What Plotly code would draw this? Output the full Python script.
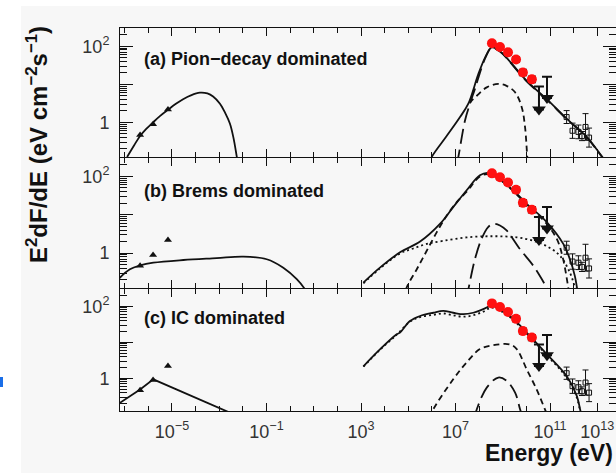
import plotly.graph_objects as go

# ---------------- data (log10 values) ----------------
# common measured points
radio_logE = [-6.35, -5.8, -5.17]
radio_logF = [-0.33, -0.05, 0.34]

fermi_logE = [8.54, 8.88, 9.22, 9.56, 9.85, 10.23]
fermi_logF = [2.08, 1.98, 1.84, 1.65, 1.31, 1.13]
fermi_errlog = [0.06, 0.06, 0.06, 0.07, 0.08, 0.08]

ul_logE = [10.53, 10.87]
ul_top_logF = [0.94, 1.20]
ul_arrow_logF = [0.34, 0.64]

hess_logE = [11.7, 11.95, 12.2, 12.35, 12.5, 12.65]
hess_logF = [0.14, -0.22, -0.25, -0.36, -0.12, -0.40]
hess_errlog = [0.17, 0.20, 0.18, 0.12, 0.35, 0.25]

# panel (a) Pion-decay dominated
a_sync_logE = [-6.9, -6.6, -6.35, -6.1, -5.8, -5.5, -5.17, -4.85, -4.53, -4.2, -3.82, -3.5, -3.26, -2.97, -2.75, -2.55, -2.4, -2.25, -2.15]
a_sync_logF = [-0.91, -0.6, -0.36, -0.18, 0.0, 0.17, 0.33, 0.48, 0.61, 0.71, 0.78, 0.76, 0.68, 0.49, 0.25, -0.03, -0.4, -0.93, -1.3]
a_tot_logE = [5.6, 6.0, 6.6, 7.19, 7.54, 7.96, 8.25, 8.53, 8.88, 10.01, 10.86, 11.7, 12.55, 13.25, 13.6]
a_tot_logF = [-1.4, -0.9, -0.38, 0.14, 0.49, 1.26, 1.70, 1.97, 1.87, 1.09, 0.61, 0.10, -0.38, -0.94, -1.2]
a_pi_logE = [7.05, 7.12, 7.4, 7.61, 7.82, 8.11, 8.3, 8.53, 8.88, 10.01, 10.86, 11.7, 12.55, 13.25, 13.6]
a_pi_logF = [-1.1, -0.9, 0.05, 0.49, 0.88, 1.45, 1.75, 1.96, 1.86, 1.08, 0.60, 0.09, -0.39, -0.95, -1.2]
a_sd_logE = [7.6, 7.68, 7.9, 8.32, 8.81, 9.16, 9.52, 9.8, 9.94, 10.04, 10.1]
a_sd_logF = [0.5, 0.57, 0.7, 0.92, 1.01, 0.96, 0.79, 0.40, -0.12, -0.94, -1.3]

# panel (b) Brems dominated
b_sync_logE = [-7.3, -7.2, -6.78, -6.35, -5.79, -4.52, -3.11, -1.98, -0.99, -0.29, 0.28, 0.63, 0.8]
b_sync_logF = [-0.72, -0.64, -0.42, -0.32, -0.25, -0.18, -0.13, -0.09, -0.16, -0.38, -0.68, -0.95, -1.2]
b_tot_logE = [3.1, 3.8, 4.65, 5.5, 6.34, 6.9, 7.47, 8.03, 8.4, 8.9, 9.5, 10.0, 10.86, 11.56, 11.84, 12.05, 12.15]
b_tot_logF = [-0.77, -0.38, 0.02, 0.30, 0.76, 1.2, 1.64, 2.03, 2.09, 1.92, 1.6, 1.29, 0.81, 0.24, -0.16, -0.6, -0.95]
b_ic_logE = [3.1, 3.8, 4.65, 5.21, 5.78, 6.48, 7.47, 8.6, 9.59, 10.29, 10.86, 11.42, 11.84, 12.05, 12.15]
b_ic_logF = [-0.79, -0.4, -0.01, 0.12, 0.24, 0.32, 0.41, 0.44, 0.41, 0.32, 0.18, -0.07, -0.51, -0.9, -1.2]
b_br_logE = [4.8, 4.93, 5.36, 5.78, 6.2, 6.63, 7.05, 7.47, 8.03, 8.4, 8.9, 9.5, 10.0, 10.86, 11.3, 11.55, 11.77, 11.85]
b_br_logF = [-1.2, -0.9, -0.42, 0.06, 0.54, 0.98, 1.33, 1.6, 2.0, 2.06, 1.9, 1.58, 1.27, 0.76, 0.35, -0.15, -0.9, -1.2]
b_pi_logE = [7.45, 7.54, 7.82, 8.1, 8.38, 8.6, 8.88, 9.16, 9.73, 10.29, 10.86, 11.0]
b_pi_logF = [-1.2, -0.95, -0.16, 0.37, 0.68, 0.76, 0.72, 0.59, 0.10, -0.33, -0.9, -1.05]

# panel (c) IC dominated
c_sync_logE = [-7.2, -6.35, -5.79, -2.9, -2.5]
c_sync_logF = [-0.68, -0.31, -0.03, -0.86, -0.97]
c_tot_logE = [3.1, 3.8, 4.51, 4.65, 5.07, 5.5, 6.06, 6.48, 6.9, 7.33, 7.75, 8.17, 8.53, 9.3, 10.01, 10.86, 11.7, 12.13, 12.27, 12.35]
c_tot_logF = [0.33, 0.8, 1.22, 1.27, 1.59, 1.73, 1.82, 1.87, 1.82, 1.78, 1.82, 1.92, 2.01, 1.73, 1.27, 0.67, 0.06, -0.49, -0.86, -1.1]
c_ic_logE = [3.1, 3.8, 4.51, 5.07, 5.5, 6.06, 6.48, 6.9, 7.33, 7.75, 8.17, 8.53, 9.3, 10.01, 10.86, 11.7, 12.13, 12.27, 12.35]
c_ic_logF = [0.32, 0.79, 1.21, 1.57, 1.70, 1.76, 1.80, 1.75, 1.71, 1.75, 1.85, 1.96, 1.70, 1.24, 0.64, 0.02, -0.53, -0.9, -1.1]
c_br_logE = [5.9, 6.06, 6.9, 7.47, 8.03, 8.6, 9.3, 9.59, 10.01, 10.43, 10.78, 10.9]
c_br_logF = [-1.1, -0.86, -0.03, 0.44, 0.81, 0.92, 0.94, 0.81, 0.25, -0.31, -0.86, -1.05]
c_pi_logE = [7.8, 7.9, 8.32, 8.81, 9.16, 9.52, 9.73, 9.8]
c_pi_logF = [-1.1, -0.86, -0.26, 0.02, -0.07, -0.4, -0.86, -1.0]

panel_labels = ["(a) Pion\u2212decay dominated", "(b) Brems dominated", "(c) IC dominated"]
x_tick_vals = [1e-5, 1e-1, 1e3, 1e7, 1e11, 1e13]
x_tick_text = ["10<sup>\u22125</sup>", "10<sup>\u22121</sup>", "10<sup>3</sup>", "10<sup>7</sup>",
               "10<sup>11</sup>", "10<sup>13</sup>"]
y_tick_vals = [1, 10, 100]
y_tick_text = ["1", " ", "10<sup>2</sup>"]

# ---------------- figure ----------------
W, H = 616, 473
BG = "#f7f7f7"
FONT = "Liberation Sans, Arial, sans-serif"
INK = "#111111"


def lin(v):
    return [10 ** t for t in v]


fig = go.Figure()

SOLID = dict(color=INK, width=1.8)
SDASH = dict(color=INK, width=1.8, dash="6px,4px")
LDASH = dict(color=INK, width=1.8, dash="15px,6px")
DOT = dict(color=INK, width=1.8, dash="2px,3px")

panel_curves = [
    [(a_pi_logE, a_pi_logF, LDASH), (a_sd_logE, a_sd_logF, SDASH),
     (a_sync_logE, a_sync_logF, SOLID), (a_tot_logE, a_tot_logF, SOLID)],
    [(b_pi_logE, b_pi_logF, LDASH), (b_br_logE, b_br_logF, SDASH), (b_ic_logE, b_ic_logF, DOT),
     (b_sync_logE, b_sync_logF, SOLID), (b_tot_logE, b_tot_logF, SOLID)],
    [(c_pi_logE, c_pi_logF, LDASH), (c_br_logE, c_br_logF, SDASH), (c_ic_logE, c_ic_logF, DOT),
     (c_sync_logE, c_sync_logF, SOLID), (c_tot_logE, c_tot_logF, SOLID)],
]

for i, curves in enumerate(panel_curves):
    xa = "x" if i == 0 else f"x{i+1}"
    ya = "y" if i == 0 else f"y{i+1}"
    for ex, fy, style in curves:
        shape = "linear" if (i == 2 and ex is c_sync_logE) else "spline"
        fig.add_trace(go.Scatter(x=lin(ex), y=lin(fy), mode="lines", line=dict(**style, shape=shape),
                                 xaxis=xa, yaxis=ya, showlegend=False, hoverinfo="skip"))
    # radio triangles
    fig.add_trace(go.Scatter(x=lin(radio_logE), y=lin(radio_logF), mode="markers",
                             marker=dict(symbol="triangle-up", size=7, color=INK),
                             xaxis=xa, yaxis=ya, showlegend=False))
    # Fermi points
    fF = lin(fermi_logF)
    fig.add_trace(go.Scatter(x=lin(fermi_logE), y=fF, mode="markers",
                             marker=dict(symbol="circle", size=10, color="#ff1010"),
                             error_y=dict(type="data", symmetric=False,
                                          array=[f * (10 ** e - 1) for f, e in zip(fF, fermi_errlog)],
                                          arrayminus=[f * (1 - 10 ** -e) for f, e in zip(fF, fermi_errlog)],
                                          color=INK, thickness=1.5, width=4),
                             xaxis=xa, yaxis=ya, showlegend=False))
    # upper limits
    ua = lin(ul_arrow_logF)
    ut = lin(ul_top_logF)
    fig.add_trace(go.Scatter(x=lin(ul_logE), y=ua, mode="markers",
                             marker=dict(symbol="triangle-down", size=12, color=INK),
                             error_y=dict(type="data", symmetric=False,
                                          array=[t - a for t, a in zip(ut, ua)],
                                          arrayminus=[0, 0], color=INK, thickness=2, width=5),
                             xaxis=xa, yaxis=ya, showlegend=False))
    # HESS points
    hF = lin(hess_logF)
    fig.add_trace(go.Scatter(x=lin(hess_logE), y=hF, mode="markers",
                             marker=dict(symbol="square-open", size=5, color=INK, line=dict(width=1, color=INK)),
                             error_y=dict(type="data", symmetric=False,
                                          array=[f * (10 ** e - 1) for f, e in zip(hF, hess_errlog)],
                                          arrayminus=[f * (1 - 10 ** -e) for f, e in zip(hF, hess_errlog)],
                                          color=INK, thickness=1, width=3),
                             xaxis=xa, yaxis=ya, showlegend=False))

panel_px = [(28, 157), (158, 288), (289, 411)]
x_minor = [10.0 ** k for k in range(-7, 14)]
y_minor = [m * 10.0 ** d for d in (-1, 0, 1, 2) for m in range(2, 10)]

layout = dict(
    width=W, height=H, margin=dict(l=0, r=0, t=0, b=0),
    paper_bgcolor=BG, plot_bgcolor=BG, showlegend=False,
    font=dict(family=FONT, color=INK),
)
for i, (top, bot) in enumerate(panel_px):
    xk = "xaxis" if i == 0 else f"xaxis{i+1}"
    yk = "yaxis" if i == 0 else f"yaxis{i+1}"
    ya = "y" if i == 0 else f"y{i+1}"
    xa = "x" if i == 0 else f"x{i+1}"
    layout[xk] = dict(type="log", range=[-7.2, 13.79], domain=[120 / W, 1.0], anchor=ya,
                      showline=True, linecolor=INK, linewidth=1, mirror="allticks",
                      ticks="inside", ticklen=8, tickcolor=INK, tickwidth=1,
                      tickmode="array", tickvals=x_tick_vals, ticktext=x_tick_text,
                      showticklabels=(i == 2), tickfont=dict(size=18, color="#333333", family=FONT),
                      ticklabelstandoff=4,
                      minor=dict(tickmode="array", tickvals=x_minor, ticks="inside", ticklen=5,
                                 tickcolor=INK, showgrid=False),
                      showgrid=False, zeroline=False)
    layout[yk] = dict(type="log", range=[-0.91, 2.48], domain=[1 - bot / H, 1 - top / H], anchor=xa,
                      showline=True, linecolor=INK, linewidth=1, mirror="allticks",
                      ticks="inside", ticklen=13, tickcolor=INK, tickwidth=1,
                      tickmode="array", tickvals=y_tick_vals, ticktext=y_tick_text,
                      tickfont=dict(size=18, color="#333333", family=FONT),
                      ticklabelstandoff=6,
                      minor=dict(tickmode="array", tickvals=y_minor, ticks="inside", ticklen=7,
                                 tickcolor=INK, showgrid=False),
                      showgrid=False, zeroline=False)

annotations = []
label_y = [59, 191, 318]
for txt, yy in zip(panel_labels, label_y):
    annotations.append(dict(text=f"<b>{txt}</b>", xref="paper", yref="paper", x=142 / W, y=1 - yy / H,
                            xanchor="left", yanchor="middle", showarrow=False,
                            font=dict(size=18, color=INK, family=FONT)))
annotations.append(dict(text="<b>E<sup>2</sup>dF/dE (eV cm<sup>\u22122</sup>s<sup>\u22121</sup>)</b>",
                        xref="paper", yref="paper", x=37 / W, y=1 - 145 / H, textangle=-90,
                        xanchor="center", yanchor="middle", showarrow=False,
                        font=dict(size=24, color=INK, family=FONT)))
annotations.append(dict(text="<b>Energy (eV)</b>", xref="paper", yref="paper", x=615 / W, y=1 - 453 / H,
                        xanchor="right", yanchor="middle", showarrow=False,
                        font=dict(size=23, color=INK, family=FONT)))
layout["annotations"] = annotations

layout["shapes"] = [
    dict(type="rect", xref="paper", yref="paper", x0=0, x1=21 / W, y0=0, y1=1,
         fillcolor="white", line=dict(width=0), layer="below"),
    dict(type="rect", xref="paper", yref="paper", x0=0, x1=1, y0=1 - 6 / H, y1=1,
         fillcolor="white", line=dict(width=0), layer="below"),
    dict(type="rect", xref="paper", yref="paper", x0=0, x1=3 / W, y0=1 - 387 / H, y1=1 - 377 / H,
         fillcolor="#1a6ee8", line=dict(width=0), layer="above"),
]

fig.update_layout(**layout)
fig.write_html("out.html", config={"displayModeBar": False},
               post_script="document.body.style.margin='0';document.body.style.overflow='hidden';")
